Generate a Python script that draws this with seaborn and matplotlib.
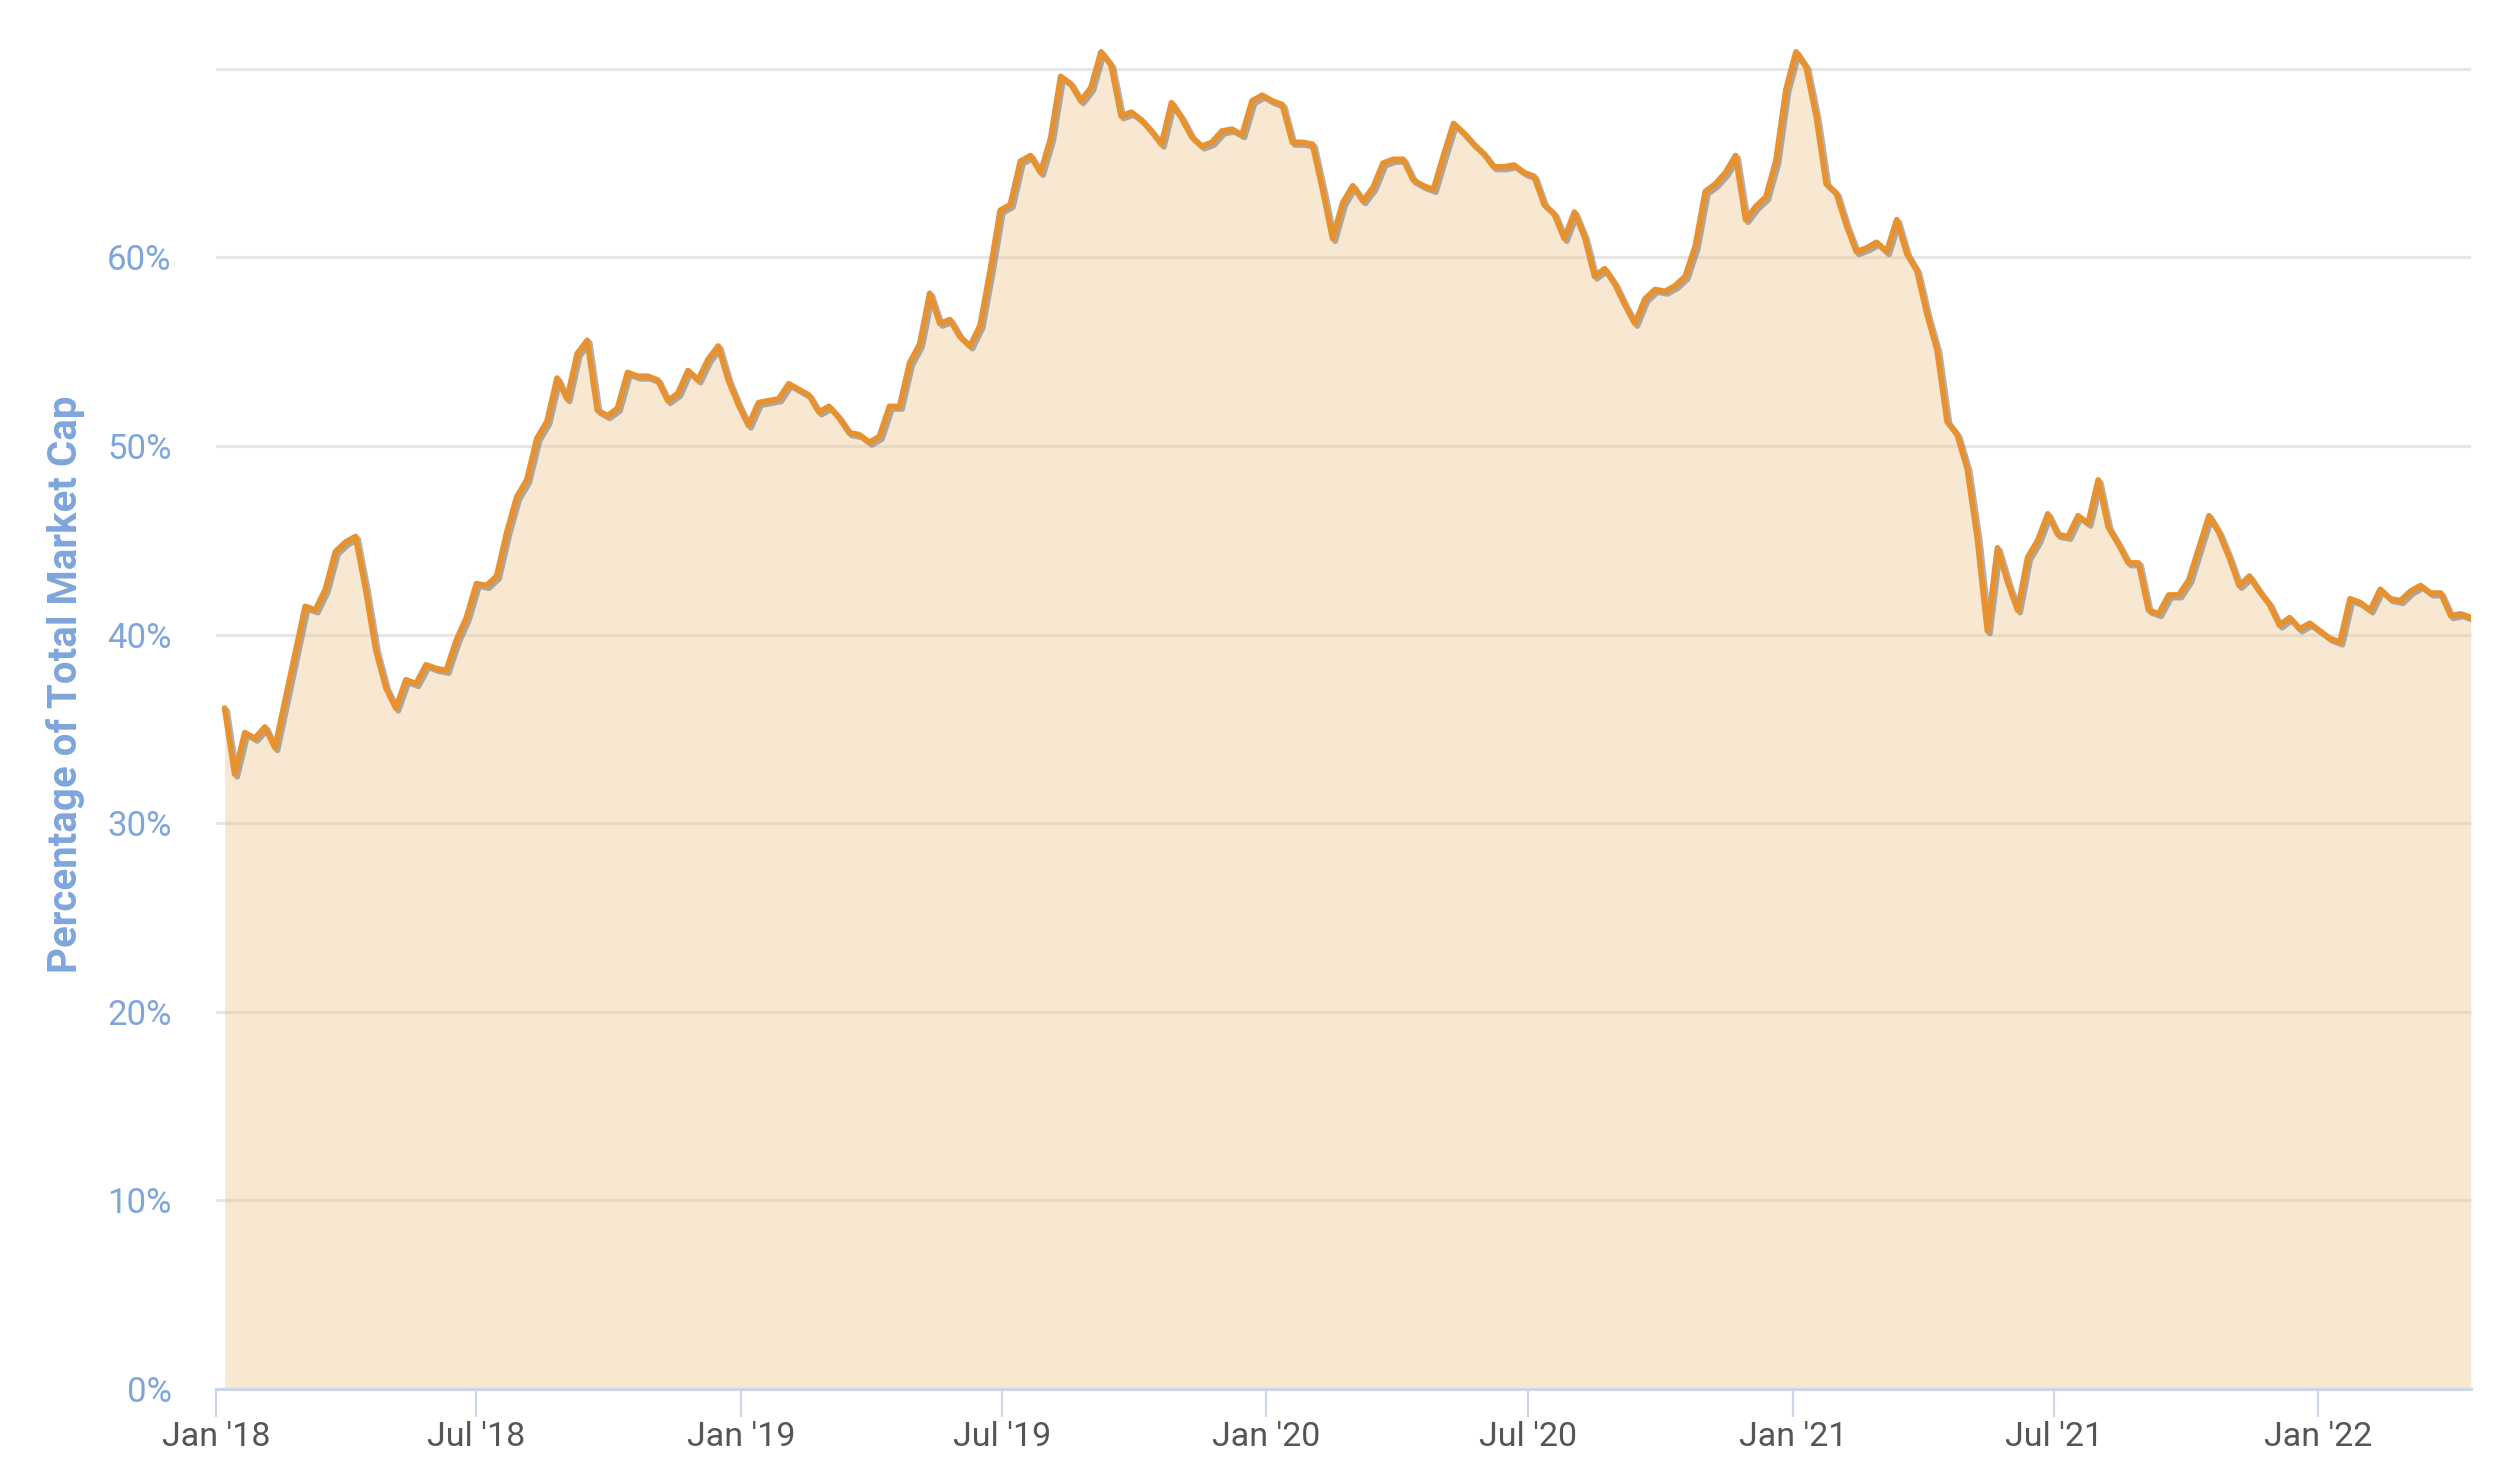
import pandas as pd
import matplotlib.pyplot as plt
import matplotlib.patheffects as pe
import seaborn as sns

# weekly share of total crypto market cap (%)
first_week = "2018-01-07"
dominance = [
    36.1, 32.6, 34.8, 34.5, 35.1, 34.0, 36.5, 39.0, 41.5, 41.3,
    42.4, 44.4, 44.9, 45.2, 42.4, 39.2, 37.2, 36.1, 37.6, 37.4,
    38.4, 38.2, 38.1, 39.7, 40.9, 42.7, 42.6, 43.1, 45.4, 47.3,
    48.2, 50.4, 51.3, 53.6, 52.5, 54.9, 55.6, 51.9, 51.6, 52.0,
    53.9, 53.7, 53.7, 53.5, 52.4, 52.8, 54.0, 53.5, 54.6, 55.3,
    53.5, 52.2, 51.1, 52.3, 52.4, 52.5, 53.3, 53.0, 52.7, 51.8,
    52.1, 51.5, 50.7, 50.6, 50.2, 50.5, 52.1, 52.1, 54.4, 55.4,
    58.1, 56.5, 56.7, 55.8, 55.3, 56.4, 59.3, 62.5, 62.8, 65.1,
    65.4, 64.5, 66.3, 69.6, 69.2, 68.3, 69.0, 70.9, 70.2, 67.5,
    67.7, 67.3, 66.7, 66.0, 68.2, 67.4, 66.4, 65.9, 66.1, 66.7,
    66.8, 66.5, 68.3, 68.6, 68.3, 68.1, 66.1, 66.1, 66.0, 63.6,
    61.0, 62.9, 63.8, 63.0, 63.7, 65.0, 65.2, 65.2, 64.1, 63.8,
    63.6, 65.4, 67.1, 66.6, 66.0, 65.5, 64.8, 64.8, 64.9, 64.5,
    64.3, 62.8, 62.3, 61.0, 62.4, 61.1, 59.0, 59.4, 58.6, 57.5,
    56.5, 57.8, 58.3, 58.2, 58.5, 59.0, 60.6, 63.5, 63.9, 64.5,
    65.4, 62.0, 62.7, 63.2, 65.1, 68.9, 70.9, 70.1, 67.5, 63.9,
    63.4, 61.7, 60.3, 60.5, 60.8, 60.3, 62.0, 60.2, 59.3, 57.0,
    55.1, 51.3, 50.6, 48.8, 45.1, 40.2, 44.6, 42.8, 41.3, 44.1,
    45.0, 46.4, 45.3, 45.2, 46.3, 45.9, 48.2, 45.7, 44.8, 43.8,
    43.8, 41.3, 41.1, 42.1, 42.1, 42.9, 44.6, 46.3, 45.4, 44.1,
    42.6, 43.1, 42.3, 41.6, 40.5, 40.9, 40.3, 40.6, 40.2, 39.8,
    39.6, 41.9, 41.7, 41.3, 42.4, 41.9, 41.8, 42.3, 42.6, 42.2,
    42.2, 41.0, 41.1, 40.9,
]

tick_dates = pd.date_range("2018-01-01", "2022-01-01", freq="6MS")
tick_labels = ["Jan '18", "Jul '18", "Jan '19", "Jul '19", "Jan '20",
               "Jul '20", "Jan '21", "Jul '21", "Jan '22"]
y_ticks = [0, 10, 20, 30, 40, 50, 60, 70]
y_labels = ["0%", "10%", "20%", "30%", "40%", "50%", "60%", ""]

df = pd.DataFrame({
    "week": pd.date_range(first_week, periods=len(dominance), freq="7D"),
    "dominance": dominance,
})

sns.set_style("white")
plt.rcParams["font.family"] = ["Roboto", "DejaVu Sans"]

fig = plt.figure(figsize=(25.06, 14.84), dpi=100)
ax = fig.add_axes([0.0862, 0.064, 0.8998, 0.915])

# area under the line, then the line with a soft shadow
ax.fill_between(df["week"], df["dominance"], color=(238/255, 198/255, 140/255),
                alpha=0.4, linewidth=0, zorder=1)
sns.lineplot(data=df, x="week", y="dominance", ax=ax, color="#e8912f",
             linewidth=4.2, zorder=3,
             path_effects=[pe.SimpleLineShadow(offset=(1.8, -1.8), shadow_color="#666666", alpha=0.5),
                           pe.Normal()])

ax.set_xlim(pd.Timestamp("2018-01-01"), df["week"].iloc[-1])
ax.set_ylim(0, 72)

ax.set_yticks(y_ticks)
ax.set_yticklabels(y_labels)
ax.set_xticks(tick_dates)
ax.set_xticklabels(tick_labels)

ax.set_axisbelow(True)
ax.yaxis.grid(True, color="#e6e6e6", linewidth=2.2)
ax.xaxis.grid(False)

for side in ["top", "right", "left"]:
    ax.spines[side].set_visible(False)
ax.spines["bottom"].set_color("#ccd6eb")
ax.spines["bottom"].set_linewidth(2.2)
ax.spines["bottom"].set_zorder(4)

ax.tick_params(axis="x", length=20, width=1.6, color="#ccd6eb", pad=3,
               labelsize=24.5, labelcolor="#555555", bottom=True)
ax.tick_params(axis="y", length=0, pad=32, labelsize=25, labelcolor="#7ea6dc")

ax.set_xlabel("")
ax.set_ylabel("Percentage of Total Market Cap", fontsize=29, fontweight="bold",
              color="#7ea6dc")
ax.yaxis.set_label_coords(-0.058, 0.519)

fig.savefig("out.png", dpi=100)
